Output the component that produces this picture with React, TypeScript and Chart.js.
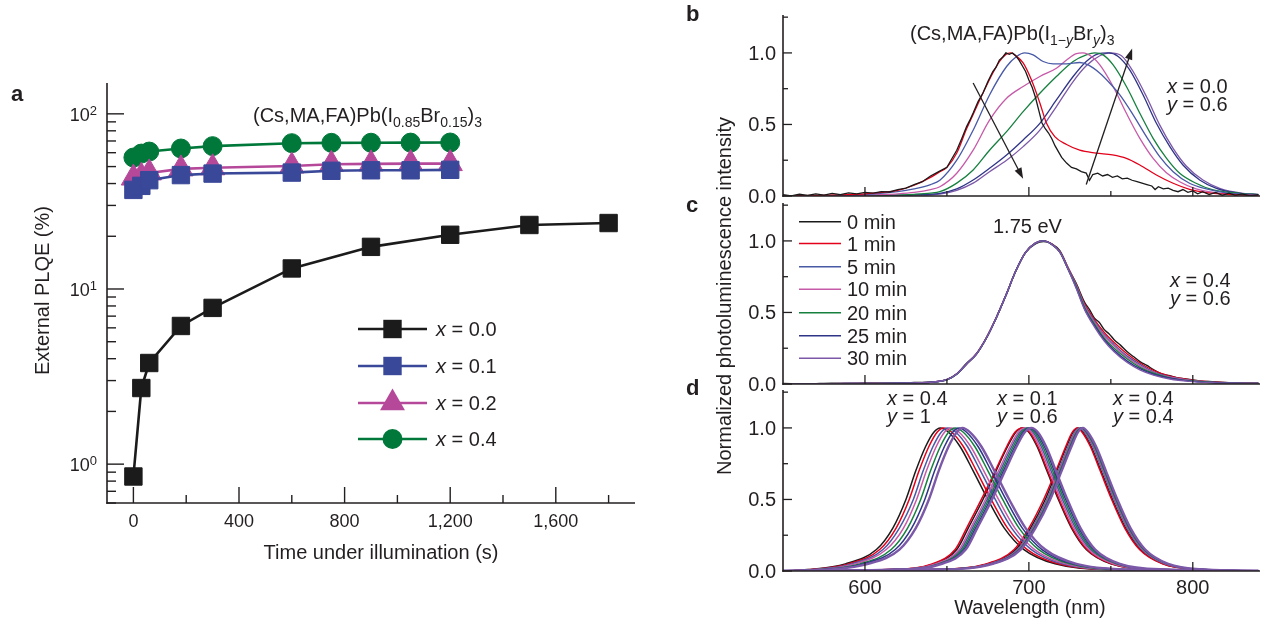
import React, { useEffect, useRef } from 'react';
import { Chart, registerables } from 'chart.js';

Chart.register(...registerables);

const FONT = '"Liberation Sans", Arial, Helvetica, sans-serif';
const INK = '#231f20';

// ---------------- Panel a data ----------------
const TIME_X00 = [0, 30, 60, 180, 300, 600, 900, 1200, 1500, 1800];
const PLQE_X00 = [0.85, 2.72, 3.78, 6.15, 7.8, 13.1, 17.4, 20.4, 23.2, 23.8];
const TIME_X01 = [0, 30, 60, 180, 300, 600, 750, 900, 1050, 1200];
const PLQE_X01 = [36.8, 38.8, 41.8, 44.7, 45.6, 46.2, 47.3, 47.6, 47.6, 47.9];
const TIME_X02 = [0, 30, 60, 180, 300, 600, 750, 900, 1050, 1200];
const PLQE_X02 = [43, 44, 46, 48.5, 49.2, 50.4, 51.5, 51.8, 52, 52];
const TIME_X04 = [0, 30, 60, 180, 300, 600, 750, 900, 1050, 1200];
const PLQE_X04 = [56.3, 59.3, 60.9, 63.4, 65.4, 68, 68.3, 68.4, 68.5, 68.6];

const A_SERIES_LABELS = ['0.0', '0.1', '0.2', '0.4'];
const A_X_MAJOR = [0, 400, 800, 1200, 1600];
const A_X_LABELS = ['0', '400', '800', '1,200', '1,600'];
const A_X_MINOR = [200, 600, 1000, 1400, 1800];
const A_Y_MAJOR = [1, 10, 100];
const A_Y_EXP = ['0', '1', '2'];
const A_Y_MINOR = [0.6, 0.7, 0.8, 0.9, 2, 3, 4, 5, 6, 7, 8, 9, 20, 30, 40, 50, 60, 70, 80, 90];

// ---------------- Panel b data (x = 0.0, y = 0.6) ----------------
const B_WL_0MIN = [550,555,560,565,570,575,580,585,590,595,600,605,610,615,620,625,630,635,640,645,650,653,656,659,662,664,666,669,672,675,678,680,682,684,686,688,690,692,694,696,698,700,702,704,706,708,710,712,714,716,718,720,723,726,729,732,735,737,739,742,745,748,751,754,757,760,763,766,769,772,775,777,779,782,785,788,791,794,797,800,803,806,810,814,818,822,826,830,835,840];
const B_I_0MIN = [0.01,0.0,0.012,0.004,0.015,0.006,0.018,0.01,0.022,0.015,0.025,0.02,0.03,0.028,0.045,0.055,0.08,0.1,0.14,0.17,0.2,0.26,0.32,0.4,0.485,0.53,0.58,0.66,0.72,0.8,0.87,0.9,0.95,0.97,1.0,0.99,1.0,0.98,0.95,0.91,0.87,0.81,0.76,0.69,0.6,0.51,0.47,0.44,0.4,0.35,0.31,0.27,0.23,0.2,0.19,0.17,0.16,0.11,0.15,0.16,0.14,0.15,0.13,0.14,0.12,0.125,0.11,0.1,0.09,0.08,0.07,0.045,0.065,0.05,0.055,0.04,0.03,0.045,0.025,0.035,0.015,0.03,0.01,0.025,0.005,0.02,0.005,0.015,0.0,0.01];
const B_WL_1MIN = [550,570,590,600,610,620,630,640,645,650,656,662,666,672,678,682,686,689,692,696.5,701.6,706.7,710.7,715.8,723,731,741,751,759.5,767.7,777.8,788,798,808,828,840];
const B_I_1MIN = [0.0,0.005,0.01,0.015,0.025,0.04,0.075,0.13,0.165,0.2,0.3,0.47,0.57,0.72,0.86,0.94,0.99,1.0,0.98,0.93,0.81,0.65,0.51,0.415,0.36,0.32,0.3,0.287,0.263,0.217,0.147,0.089,0.047,0.024,0.008,0.003];
const B_WL_5MIN = [550,580,600,620,630,640,645.7,656,666,676,686.4,692.5,697.5,702.6,708.7,714.8,723,731,736.2,743.3,749.4,755.5,763.6,771.7,779.8,788,798,808.3,818.5,828.6,840];
const B_I_5MIN = [0,0.003,0.01,0.03,0.05,0.08,0.11,0.25,0.46,0.706,0.905,0.975,1.0,0.986,0.94,0.923,0.923,0.933,0.916,0.858,0.788,0.706,0.567,0.415,0.275,0.17,0.089,0.049,0.026,0.014,0.008];
const B_WL_10MIN = [550,590,610,620,630,640,645.7,656,666,676,686.4,696.5,706.7,716.8,723,729,733,738.2,743.3,751.4,759.5,767.7,775.8,783.9,792,802,812.4,828,840];
const B_I_10MIN = [0,0.003,0.01,0.015,0.025,0.045,0.065,0.159,0.32,0.53,0.683,0.765,0.835,0.893,0.95,0.995,1.0,0.975,0.916,0.765,0.578,0.403,0.263,0.163,0.1,0.049,0.026,0.012,0.006];
const B_WL_20MIN = [550,600,620,630,640,645.7,656,666,676,686.4,696.5,706.7,716.8,727,735,740.2,745.3,751.4,759.5,767.7,775.8,784,792,802,812.4,828.6,840];
const B_I_20MIN = [0,0.003,0.008,0.012,0.02,0.03,0.09,0.182,0.32,0.45,0.59,0.718,0.835,0.94,0.986,1.0,0.986,0.916,0.765,0.578,0.403,0.263,0.159,0.089,0.042,0.019,0.01];
const B_WL_25MIN = [550,610,630,645.7,656,666,676,686.4,696.5,706.7,716.8,727,735,742.3,748.4,754.5,761.6,769.7,777.8,786,794,804.2,814.4,828.6,840];
const B_I_25MIN = [0,0.003,0.008,0.019,0.05,0.112,0.194,0.287,0.392,0.508,0.671,0.835,0.94,0.993,1.0,0.975,0.88,0.706,0.508,0.345,0.217,0.112,0.054,0.019,0.01];
const B_WL_30MIN = [550,610,630,645.7,656,666,676,686.4,696.5,706.7,716.8,727,735,743.3,749.4,756.5,763.6,771.7,779.8,788,796,806.2,816.4,830.6,840];
const B_I_30MIN = [0,0.002,0.006,0.014,0.04,0.09,0.17,0.25,0.345,0.46,0.625,0.8,0.91,0.98,1.0,0.98,0.87,0.695,0.497,0.333,0.21,0.112,0.054,0.019,0.012];
const B_ARROW_DOWN = [[666, 0.79], [696.5, 0.12]];
const B_ARROW_UP = [[735, 0.08], [763, 1.03]];

// ---------------- Panel c data (x = 0.4, y = 0.6) ----------------
const C_WL_0MIN = [550,565,580,595,600,620,630,640,650,656,662,668,674,680,686,692,698,704,709,714,719,724,729,734,737,740,743,746,749,752,756,760,764,768,772,776,781,786,792,798,805,812,826,840];
const C_I_0MIN = [0.004,0.0,0.006,0.002,0.005,0.004,0.01,0.012,0.032,0.07,0.145,0.21,0.32,0.46,0.62,0.79,0.92,0.98,0.995,0.98,0.93,0.81,0.7,0.57,0.52,0.46,0.43,0.38,0.35,0.31,0.27,0.225,0.19,0.155,0.13,0.1,0.07,0.058,0.04,0.032,0.02,0.016,0.008,0.005];
const C_WL = [550,580,600,620,630,640,650,656,662,668,674,680,686,692,698,704,709,714,719,724,729,734,740,746,752,760,768,776,786,798,812,826,840];
const C_I_1MIN = [0,0.002,0.005,0.006,0.009,0.013,0.03,0.072,0.14,0.212,0.322,0.462,0.622,0.79,0.92,0.985,1.0,0.978,0.925,0.81,0.695,0.56,0.45,0.36,0.29,0.21,0.145,0.095,0.055,0.03,0.014,0.007,0.004];
const C_I_5MIN = [0,0.002,0.004,0.006,0.008,0.012,0.03,0.07,0.14,0.21,0.32,0.46,0.62,0.79,0.92,0.985,1.0,0.976,0.922,0.805,0.69,0.55,0.44,0.345,0.275,0.195,0.135,0.085,0.05,0.027,0.012,0.006,0.004];
const C_I_10MIN = [0,0.002,0.004,0.006,0.008,0.012,0.03,0.07,0.141,0.21,0.32,0.46,0.62,0.79,0.92,0.986,1.0,0.976,0.921,0.805,0.685,0.545,0.43,0.335,0.265,0.185,0.125,0.08,0.047,0.025,0.011,0.006,0.003];
const C_I_20MIN = [0,0.002,0.004,0.006,0.008,0.012,0.029,0.069,0.14,0.209,0.319,0.46,0.62,0.79,0.92,0.985,1.0,0.975,0.92,0.8,0.68,0.535,0.42,0.32,0.25,0.175,0.115,0.075,0.043,0.023,0.011,0.005,0.003];
const C_I_25MIN = [0,0.002,0.004,0.006,0.008,0.012,0.03,0.07,0.14,0.21,0.32,0.46,0.62,0.79,0.92,0.985,1.0,0.975,0.92,0.8,0.67,0.525,0.41,0.31,0.235,0.16,0.105,0.068,0.04,0.02,0.01,0.005,0.003];
const C_I_30MIN = [0,0.002,0.004,0.006,0.008,0.012,0.03,0.07,0.14,0.21,0.32,0.46,0.62,0.79,0.92,0.985,1.0,0.975,0.92,0.8,0.665,0.52,0.4,0.3,0.225,0.15,0.097,0.062,0.035,0.018,0.009,0.005,0.003];

// ---------------- Panel d data: wavelengths (nm) at which each curve reaches these levels ----------------
const D_LEVELS = [0, 0.01, 0.05, 0.15, 0.3, 0.5, 0.7, 0.87, 0.97, 1, 0.97, 0.87, 0.7, 0.5, 0.3, 0.15, 0.05, 0.01, 0];
// group x = 0.4, y = 1
const D1_WL_0MIN = [550,565,588,607,617,625,631,637,642,646,651,658,666,675,685,697,716,750,840];
const D1_WL_1MIN = [550,567,590,609,619,627,633,639,644,648,653,660,668,677,687,699,718,752,840];
const D1_WL_5MIN = [550,569,592,611,621,629.5,635.5,641.5,646.5,650.5,655.5,662.5,670.5,679.5,689.5,701.5,720.5,754,840];
const D1_WL_10MIN = [550,571,594,613,623.5,631.5,637.5,643.5,648.5,652.5,657.5,664.5,672.5,681.5,691.5,703.5,722.5,756,840];
const D1_WL_20MIN = [550,573,597,616,626,634,640,646,651,655,660,667,675,684,694,706,725,758,840];
const D1_WL_25MIN = [550,575,599,618.5,628.5,636.5,642.5,648.5,653.5,657.5,662,669,677,686,696,708,727,760,840];
const D1_WL_30MIN = [550,578,602,621,631,639,645,651,656,659.5,664,671,679,688,698,710,729,763,840];
// group x = 0.1, y = 0.6
const D2_WL_0MIN = [550,615,642,656,663,672,680,687,692,696,700,705,711,718,726,735,750,780,840];
const D2_WL_1MIN = [550,614,641,655,662,671,679.5,686.5,691.5,696,700.5,705.5,711.5,718.5,726.5,735.5,750.5,780,840];
const D2_WL_5MIN = [550,617,644,658.5,665.5,674.5,682.5,689.5,694.5,698.5,702.5,707.5,713.5,720.5,728.5,737.5,752.5,782,840];
const D2_WL_10MIN = [550,616,643,657.5,664.5,673.5,681.5,688.5,693.5,697.5,701.5,706.5,712.5,719.5,727.5,736.5,751.5,781,840];
const D2_WL_20MIN = [550,618,645,659.5,666.5,675.5,683.5,690.5,695.5,699.5,703.5,708.5,714.5,721.5,729.5,738.5,753.5,783,840];
const D2_WL_25MIN = [550,619,646,660.5,667.5,676.5,684.5,691.5,696.5,700.5,704.5,709.5,715.5,722.5,730.5,739.5,754.5,784,840];
const D2_WL_30MIN = [550,620,647,661.5,668.5,677.5,685.5,692.5,697.5,701.5,705.5,710.5,716.5,723.5,731.5,740.5,755.5,785,840];
// group x = 0.4, y = 0.4
const D3_WL_0MIN = [550,640,675,692,701,710,717,723,727,730,733,738,744,751,759,768,782,805,840];
const D3_WL_1MIN = [550,639,674,691,700,709,716.5,722.5,726.5,729.5,732.5,737.5,743.5,750.5,758.5,767.5,781.5,805,840];
const D3_WL_5MIN = [550,641,676,693,702,711,718,724,728,731,734,739,745,752,760,769,783,806,840];
const D3_WL_10MIN = [550,641.5,676.5,693.5,702.5,711.5,718.5,724.5,728.5,731.5,734.5,739.5,745.5,752.5,760.5,769.5,783.5,806.5,840];
const D3_WL_20MIN = [550,642,677,694,703,712,719,725,729,732,735,740,746,753,761,770,784,807,840];
const D3_WL_25MIN = [550,642.5,677.5,694.5,703.5,712.5,719.5,725.5,729.5,732.5,735.5,740.5,746.5,753.5,761.5,770.5,784.5,807.5,840];
const D3_WL_30MIN = [550,643,678,695,704,713,720,726,730,733,736,741,747,754,762,771,785,808,840];

const TIME_LABELS = ['0 min', '1 min', '5 min', '10 min', '20 min', '25 min', '30 min'];
const WL_TICKS_MAJOR = [600, 700, 800];
const WL_TICKS_MINOR = [650, 750];
const INT_TICKS_MAJOR = [0, 0.5, 1.0];
const INT_TICK_LABELS = ['0.0', '0.5', '1.0'];
const INT_TICKS_MINOR = [0.25, 0.75, 1.25];

// ---------------- styles ----------------
const A_COLORS = ['#1b1b1b', '#3a4899', '#b6489a', '#00783a'];
const T_COLORS = ['#1a1a1a', '#e2001a', '#4859a6', '#c65aa9', '#16803f', '#2f3487', '#7c58a8'];
const WL_MIN = 550;
const WL_MAX = 841;
const INT_MAX = 1.265;

type Pt = { x: number; y: number };
const zip = (xs: number[], ys: number[]): Pt[] => xs.map((x, i) => ({ x, y: ys[i] }));

function seg(ctx: CanvasRenderingContext2D, x1: number, y1: number, x2: number, y2: number) {
  ctx.beginPath();
  ctx.moveTo(x1, y1);
  ctx.lineTo(x2, y2);
  ctx.stroke();
}
function fontStr(size: number, italic = false, bold = false) {
  return `${italic ? 'italic ' : ''}${bold ? 'bold ' : ''}${size}px ${FONT}`;
}
type Seg = { t: string; size: number; italic?: boolean; bold?: boolean; dy?: number };
function drawRich(ctx: CanvasRenderingContext2D, x: number, y: number, segs: Seg[], align: 'left' | 'right' | 'center' = 'left') {
  ctx.textAlign = 'left';
  ctx.textBaseline = 'alphabetic';
  let total = 0;
  for (const s of segs) {
    ctx.font = fontStr(s.size, s.italic, s.bold);
    total += ctx.measureText(s.t).width;
  }
  let cx = align === 'left' ? x : align === 'right' ? x - total : x - total / 2;
  for (const s of segs) {
    ctx.font = fontStr(s.size, s.italic, s.bold);
    ctx.fillText(s.t, cx, y + (s.dy || 0));
    cx += ctx.measureText(s.t).width;
  }
}
function varText(v: string, val: string, size = 20): Seg[] {
  return [{ t: v, size, italic: true }, { t: ' = ' + val, size }];
}
function arrow(ctx: CanvasRenderingContext2D, x1: number, y1: number, x2: number, y2: number) {
  const dx = x2 - x1, dy = y2 - y1;
  const len = Math.hypot(dx, dy);
  const ux = dx / len, uy = dy / len;
  const hl = 11, hw = 3.8;
  seg(ctx, x1, y1, x2 - ux * hl * 0.8, y2 - uy * hl * 0.8);
  ctx.beginPath();
  ctx.moveTo(x2, y2);
  ctx.lineTo(x2 - ux * hl - uy * hw, y2 - uy * hl + ux * hw);
  ctx.lineTo(x2 - ux * hl + uy * hw, y2 - uy * hl - ux * hw);
  ctx.closePath();
  ctx.fill();
}
function marker(ctx: CanvasRenderingContext2D, style: string, x: number, y: number, color: string) {
  ctx.fillStyle = color;
  ctx.beginPath();
  if (style === 'rect') {
    ctx.rect(x - 9.2, y - 9.2, 18.4, 18.4);
  } else if (style === 'circle') {
    ctx.arc(x, y, 10, 0, Math.PI * 2);
  } else {
    const r = 14.4;
    ctx.moveTo(x, y - r);
    ctx.lineTo(x + r * 0.866, y + r / 2);
    ctx.lineTo(x - r * 0.866, y + r / 2);
    ctx.closePath();
  }
  ctx.fill();
}

// ---------------- Panel a ----------------
const A_STYLES = ['rect', 'rect', 'triangle', 'circle'];
const A_RADII = [12.3, 12.3, 14, 9.5];

function panelAConfig(): any {
  const series = [
    zip(TIME_X00, PLQE_X00),
    zip(TIME_X01, PLQE_X01),
    zip(TIME_X02, PLQE_X02),
    zip(TIME_X04, PLQE_X04),
  ];
  const datasets = series.map((d, i) => ({
    label: 'x = ' + A_SERIES_LABELS[i],
    data: d,
    borderColor: A_COLORS[i],
    backgroundColor: A_COLORS[i],
    pointBackgroundColor: A_COLORS[i],
    pointBorderColor: A_COLORS[i],
    pointBorderWidth: 1,
    borderWidth: 2.6,
    pointStyle: A_STYLES[i],
    pointRadius: A_RADII[i],
    tension: 0,
    order: i,
    clip: false,
  }));
  return {
    type: 'line',
    data: { datasets },
    options: {
      responsive: false,
      animation: false,
      events: [],
      layout: { padding: { left: 107, top: 83, right: 1262 - 635, bottom: 624 - 503 } },
      plugins: { legend: { display: false }, tooltip: { enabled: false } },
      scales: {
        x: { type: 'linear', min: -100, max: 1900, display: false },
        y: { type: 'logarithmic', min: 0.6, max: 150, display: false },
      },
    },
    plugins: [
      {
        id: 'panelA',
        afterDraw(chart: any) {
          const ctx: CanvasRenderingContext2D = chart.ctx;
          const xs = chart.scales.x, ys = chart.scales.y;
          const { left, right, top, bottom } = chart.chartArea;
          ctx.save();
          ctx.strokeStyle = INK;
          ctx.fillStyle = INK;
          ctx.lineWidth = 1.6;
          seg(ctx, left, top, left, bottom + 0.8);
          seg(ctx, left - 0.8, bottom, right, bottom);
          ctx.lineWidth = 1.4;
          A_Y_MAJOR.forEach((v) => { const y = ys.getPixelForValue(v); seg(ctx, left, y, left + 17, y); });
          A_Y_MINOR.forEach((v) => { const y = ys.getPixelForValue(v); seg(ctx, left, y, left + 9, y); });
          A_X_MAJOR.forEach((v) => { const x = xs.getPixelForValue(v); seg(ctx, x, bottom, x, bottom - 16); });
          A_X_MINOR.forEach((v) => { const x = xs.getPixelForValue(v); seg(ctx, x, bottom, x, bottom - 8); });
          A_Y_MAJOR.forEach((v, i) => {
            const y = ys.getPixelForValue(v);
            drawRich(ctx, 97, y + 7, [{ t: '10', size: 18 }, { t: A_Y_EXP[i], size: 13, dy: -6 }], 'right');
          });
          A_X_MAJOR.forEach((v, i) => {
            const x = xs.getPixelForValue(v);
            drawRich(ctx, x, 527, [{ t: A_X_LABELS[i], size: 18 }], 'center');
          });
          drawRich(ctx, 381, 559, [{ t: 'Time under illumination (s)', size: 20 }], 'center');
          ctx.save();
          ctx.translate(49, 375);
          ctx.rotate(-Math.PI / 2);
          drawRich(ctx, 0, 0, [{ t: 'External PLQE (%)', size: 20 }], 'left');
          ctx.restore();
          drawRich(ctx, 11, 101, [{ t: 'a', size: 22, bold: true }]);
          drawRich(ctx, 253, 122, [
            { t: '(Cs,MA,FA)Pb(I', size: 20 },
            { t: '0.85', size: 14, dy: 5 },
            { t: 'Br', size: 20 },
            { t: '0.15', size: 14, dy: 5 },
            { t: ')', size: 20 },
            { t: '3', size: 14, dy: 5 },
          ]);
          // legend
          const rows = [329, 366, 403, 439];
          rows.forEach((ry, i) => {
            ctx.strokeStyle = A_COLORS[i];
            ctx.lineWidth = 2.6;
            seg(ctx, 358, ry, 427, ry);
            marker(ctx, A_STYLES[i], 392.5, ry, A_COLORS[i]);
            ctx.fillStyle = INK;
            drawRich(ctx, 436, ry + 7, varText('x', A_SERIES_LABELS[i]));
          });
          ctx.restore();
        },
      },
    ],
  };
}

// ---------------- spectra panels ----------------
function specAxes(chart: any, withLabels: boolean) {
  const ctx: CanvasRenderingContext2D = chart.ctx;
  const xs = chart.scales.x, ys = chart.scales.y;
  const { left, right, top, bottom } = chart.chartArea;
  ctx.strokeStyle = INK;
  ctx.fillStyle = INK;
  ctx.lineWidth = 1.6;
  seg(ctx, left, top, left, bottom + 0.8);
  seg(ctx, left - 0.8, bottom, right, bottom);
  ctx.lineWidth = 1.3;
  INT_TICKS_MAJOR.forEach((v) => { const y = ys.getPixelForValue(v); seg(ctx, left, y, left + 9, y); });
  INT_TICKS_MINOR.forEach((v) => { const y = ys.getPixelForValue(v); seg(ctx, left, y, left + 5, y); });
  WL_TICKS_MAJOR.forEach((v) => { const x = xs.getPixelForValue(v); seg(ctx, x, bottom, x, bottom - 9); });
  WL_TICKS_MINOR.forEach((v) => { const x = xs.getPixelForValue(v); seg(ctx, x, bottom, x, bottom - 5); });
  INT_TICKS_MAJOR.forEach((v, i) => {
    const y = ys.getPixelForValue(v);
    drawRich(ctx, 776, y + 7, [{ t: INT_TICK_LABELS[i], size: 20 }], 'right');
  });
  if (withLabels) {
    WL_TICKS_MAJOR.forEach((v) => {
      const x = xs.getPixelForValue(v);
      drawRich(ctx, x, 594, [{ t: String(v), size: 20 }], 'center');
    });
    drawRich(ctx, 1030, 614, [{ t: 'Wavelength (nm)', size: 20 }], 'center');
  }
}

function specConfig(datasets: any[], top: number, bottom: number, deco: (chart: any) => void): any {
  return {
    type: 'line',
    data: { datasets },
    options: {
      responsive: false,
      animation: false,
      events: [],
      layout: { padding: { left: 783, top, right: 2, bottom: 624 - bottom } },
      plugins: { legend: { display: false }, tooltip: { enabled: false } },
      scales: {
        x: { type: 'linear', min: WL_MIN, max: WL_MAX, display: false },
        y: { type: 'linear', min: 0, max: INT_MAX, display: false },
      },
      elements: { point: { radius: 0 } },
    },
    plugins: [{ id: 'deco' + top, afterDraw: (chart: any) => { chart.ctx.save(); deco(chart); chart.ctx.restore(); } }],
  };
}

function lineDs(data: Pt[], i: number, order: number, width: number, smooth = true) {
  return {
    label: TIME_LABELS[i],
    data,
    borderColor: T_COLORS[i],
    backgroundColor: T_COLORS[i],
    borderWidth: width,
    pointRadius: 0,
    fill: false,
    cubicInterpolationMode: smooth ? 'monotone' : 'default',
    tension: 0,
    order,
  };
}

function panelBConfig(): any {
  const series = [
    zip(B_WL_0MIN, B_I_0MIN),
    zip(B_WL_1MIN, B_I_1MIN),
    zip(B_WL_5MIN, B_I_5MIN),
    zip(B_WL_10MIN, B_I_10MIN),
    zip(B_WL_20MIN, B_I_20MIN),
    zip(B_WL_25MIN, B_I_25MIN),
    zip(B_WL_30MIN, B_I_30MIN),
  ];
  const ds = series.map((d, i) => lineDs(d, i, i, 1.3, i !== 0));
  return specConfig(ds, 15, 196, (chart) => {
    const ctx: CanvasRenderingContext2D = chart.ctx;
    const xs = chart.scales.x, ys = chart.scales.y;
    specAxes(chart, false);
    ctx.fillStyle = INK;
    ctx.strokeStyle = INK;
    ctx.lineWidth = 1.3;
    const p = (a: number[]) => [xs.getPixelForValue(a[0]), ys.getPixelForValue(a[1])];
    const d0 = p(B_ARROW_DOWN[0]), d1 = p(B_ARROW_DOWN[1]);
    arrow(ctx, d0[0], d0[1], d1[0], d1[1]);
    const u0 = p(B_ARROW_UP[0]), u1 = p(B_ARROW_UP[1]);
    arrow(ctx, u0[0], u0[1], u1[0], u1[1]);
    drawRich(ctx, 686, 21, [{ t: 'b', size: 22, bold: true }]);
    drawRich(ctx, 910, 40, [
      { t: '(Cs,MA,FA)Pb(I', size: 20 },
      { t: '1\u2212', size: 14, dy: 5 },
      { t: 'y', size: 14, dy: 5, italic: true },
      { t: 'Br', size: 20 },
      { t: 'y', size: 14, dy: 5, italic: true },
      { t: ')', size: 20 },
      { t: '3', size: 14, dy: 5 },
    ]);
    drawRich(ctx, 1167, 93, varText('x', '0.0'));
    drawRich(ctx, 1167, 111, varText('y', '0.6'));
  });
}

function panelCConfig(): any {
  const series = [
    zip(C_WL_0MIN, C_I_0MIN),
    zip(C_WL, C_I_1MIN),
    zip(C_WL, C_I_5MIN),
    zip(C_WL, C_I_10MIN),
    zip(C_WL, C_I_20MIN),
    zip(C_WL, C_I_25MIN),
    zip(C_WL, C_I_30MIN),
  ];
  const ds = series.map((d, i) => lineDs(d, i, 6 - i, 1.4, true));
  return specConfig(ds, 203, 384, (chart) => {
    const ctx: CanvasRenderingContext2D = chart.ctx;
    specAxes(chart, false);
    ctx.fillStyle = INK;
    drawRich(ctx, 686, 212, [{ t: 'c', size: 22, bold: true }]);
    drawRich(ctx, 993, 233, [{ t: '1.75 eV', size: 20 }]);
    drawRich(ctx, 1170, 287, varText('x', '0.4'));
    drawRich(ctx, 1170, 305, varText('y', '0.6'));
    const rows = [221.7, 243.5, 266.7, 289.3, 312.7, 335.7, 358.3];
    rows.forEach((ry, i) => {
      ctx.strokeStyle = T_COLORS[i];
      ctx.lineWidth = 1.6;
      seg(ctx, 799, ry, 841, ry);
      ctx.fillStyle = INK;
      drawRich(ctx, 847, ry + 7, [{ t: TIME_LABELS[i], size: 20 }]);
    });
    // shared y-axis title for b, c, d
    ctx.save();
    ctx.translate(731, 475);
    ctx.rotate(-Math.PI / 2);
    ctx.fillStyle = INK;
    drawRich(ctx, 0, 0, [{ t: 'Normalized photoluminescence intensity', size: 20 }], 'left');
    ctx.restore();
  });
}

function panelDConfig(): any {
  const groups = [
    [D1_WL_0MIN, D1_WL_1MIN, D1_WL_5MIN, D1_WL_10MIN, D1_WL_20MIN, D1_WL_25MIN, D1_WL_30MIN],
    [D2_WL_0MIN, D2_WL_1MIN, D2_WL_5MIN, D2_WL_10MIN, D2_WL_20MIN, D2_WL_25MIN, D2_WL_30MIN],
    [D3_WL_0MIN, D3_WL_1MIN, D3_WL_5MIN, D3_WL_10MIN, D3_WL_20MIN, D3_WL_25MIN, D3_WL_30MIN],
  ];
  const ds: any[] = [];
  groups.forEach((g) => {
    g.forEach((wl, i) => {
      ds.push(lineDs(zip(wl, D_LEVELS), i, 6 - i, i === 6 ? 2.4 : 1.5, true));
    });
  });
  return specConfig(ds, 390, 571, (chart) => {
    const ctx: CanvasRenderingContext2D = chart.ctx;
    specAxes(chart, true);
    ctx.fillStyle = INK;
    drawRich(ctx, 686, 395, [{ t: 'd', size: 22, bold: true }]);
    drawRich(ctx, 887, 405, varText('x', '0.4'));
    drawRich(ctx, 887, 423, varText('y', '1'));
    drawRich(ctx, 997, 405, varText('x', '0.1'));
    drawRich(ctx, 997, 423, varText('y', '0.6'));
    drawRich(ctx, 1113, 405, varText('x', '0.4'));
    drawRich(ctx, 1113, 423, varText('y', '0.4'));
  });
}

export default function App() {
  const aRef = useRef<HTMLCanvasElement>(null);
  const bRef = useRef<HTMLCanvasElement>(null);
  const cRef = useRef<HTMLCanvasElement>(null);
  const dRef = useRef<HTMLCanvasElement>(null);

  useEffect(() => {
    const charts = [
      new Chart(aRef.current as HTMLCanvasElement, panelAConfig()),
      new Chart(bRef.current as HTMLCanvasElement, panelBConfig()),
      new Chart(cRef.current as HTMLCanvasElement, panelCConfig()),
      new Chart(dRef.current as HTMLCanvasElement, panelDConfig()),
    ];
    return () => charts.forEach((c) => c.destroy());
  }, []);

  const cs: React.CSSProperties = { position: 'absolute', left: 0, top: 0, width: 1262, height: 624 };
  return (
    <div style={{ position: 'fixed', left: 0, top: 0, width: 1262, height: 624, background: '#ffffff', overflow: 'hidden' }}>
      <canvas ref={aRef} width={1262} height={624} style={cs} />
      <canvas ref={bRef} width={1262} height={624} style={cs} />
      <canvas ref={cRef} width={1262} height={624} style={cs} />
      <canvas ref={dRef} width={1262} height={624} style={cs} />
    </div>
  );
}
